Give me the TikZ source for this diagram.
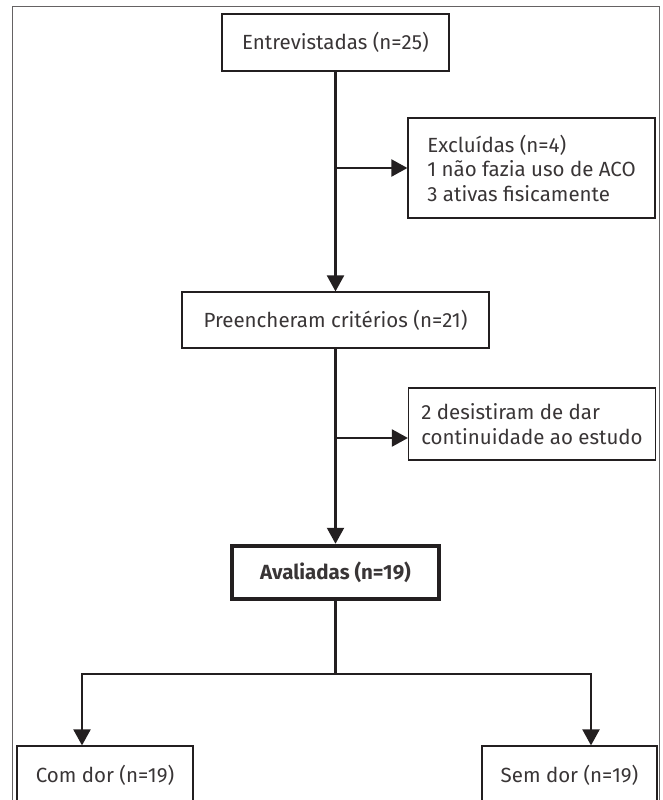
\documentclass[tikz,border=0pt]{standalone}
\usepackage{fontspec}
\setmainfont{Fira Sans}
\usepackage{tikz}
\usetikzlibrary{arrows.meta,positioning,calc}
\definecolor{ink}{HTML}{231F20}

\begin{document}
\begin{tikzpicture}[x=1pt, y=-1pt, -{Triangle[width=17pt,length=16pt]}, line width=2.2pt, draw=ink]
	\tikzstyle{every node}=[font=\fontsize{20.5}{24.5}\selectfont, text=ink!90]
	\tikzstyle{box}=[draw=ink, line width=1.2pt, inner sep=0pt, align=center]
	\tikzstyle{sidebox}=[box, minimum width=247pt, align=left]
	\useasboundingbox (0,0) rectangle (662,800);
	% moldura
	\draw[-, draw=ink!70, line width=1pt] (12,7) rectangle (659,830);
	\node[box, minimum width=227pt, minimum height=57pt]   (entr)   at (335.5,42.5) {Entrevistadas (n=25)};
	\node[sidebox, minimum height=100pt]                   (excl)   at (531.5,168)  {Excluídas (n=4)\\1 não fazia uso de ACO\\3 ativas fisicamente};
	\node[box, minimum width=307pt, minimum height=56pt]   (pre)    at (335.5,320)  {Preencheram critérios (n=21)};
	\node[sidebox, minimum height=72pt]                    (desist) at (532,424)    {2 desistiram de dar\\continuidade ao estudo};
	\node[box, line width=4.5pt, minimum width=207pt, minimum height=53pt, font=\fontsize{20.5}{24.5}\selectfont\bfseries] (aval) at (335.5,572.5) {Avaliadas (n=19)};
	\node[box, minimum width=176pt, minimum height=58pt]   (com)    at (105,775)    {Com dor (n=19)};
	\node[box, minimum width=175pt, minimum height=58pt]   (sem)    at (569.5,775)  {Sem dor (n=19)};
	\coordinate (desistin) at ([yshift=-14pt]desist.west);
	\coordinate (split) at (335.5,674);
	\path
		(entr.south) edge (pre.north)
		(entr.south |- excl.west) edge (excl.west)
		(pre.south) edge (aval.north)
		(pre.south |- desistin) edge (desistin);
	\draw[-] (aval.south) -- (split);
	\draw (split) -| ([xshift=-23pt]com.north);
	\draw (split) -| ([xshift=21.5pt]sem.north);
\end{tikzpicture}
\end{document}
